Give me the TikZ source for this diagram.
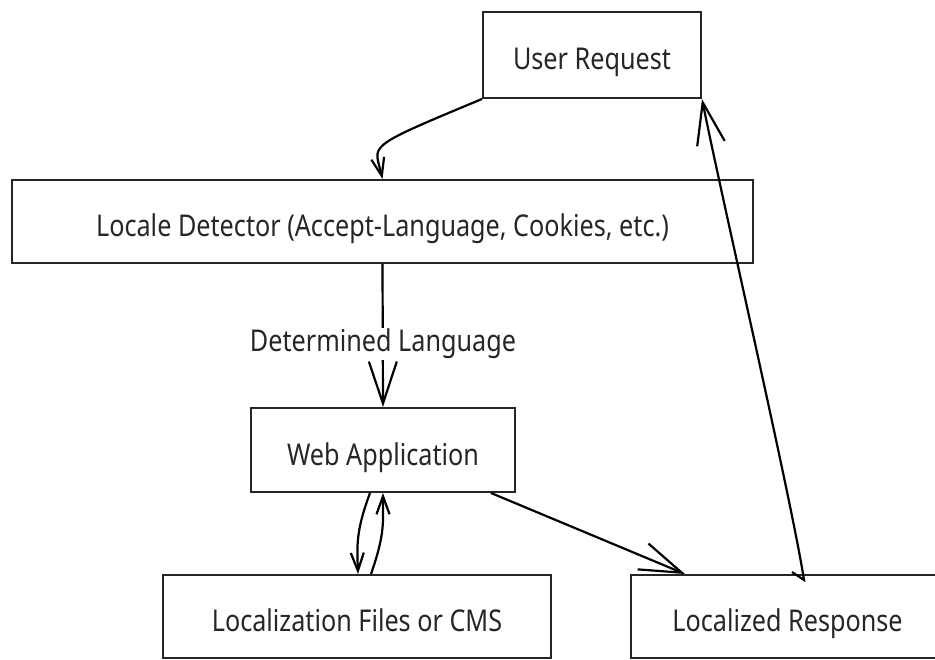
\documentclass[tikz,border=0pt]{standalone}
\usepackage{fontspec}
\setmainfont{Noto Sans}[FakeStretch=0.84]
\usetikzlibrary{arrows.meta,calc}

\begin{document}
\begin{tikzpicture}[x=1pt,y=1pt,
  box/.style={draw=black!85, line width=2pt, inner sep=0pt,
    font=\fontsize{30}{36}\selectfont, text=black!85,
    text height=33pt, text depth=3pt},
  flow/.style={draw=black, line width=2.2pt},
  bigarr/.style={-{Straight Barb[length=42pt,width=28pt]}},
  smallarr/.style={-{Straight Barb[length=18pt,width=13pt]}},
  lbl/.style={fill=white, inner sep=1pt, font=\fontsize{30}{36}\selectfont, text=black!85}]

\useasboundingbox (0,0) rectangle (935,-660);

% boxes
\node[box, minimum width=218, minimum height=86] (user) at (592,-55) {User Request};
\node[box, minimum width=741, minimum height=83] (detector) at (382.5,-221.5)
  {Locale Detector (Accept-Language, Cookies, etc.)};
\node[box, minimum width=264, minimum height=84] (webapp) at (383,-450) {Web Application};
\node[box, minimum width=388, minimum height=83] (files) at (357,-616.5) {Localization Files or CMS};
\node[box, minimum width=313, minimum height=83] (response) at (787.5,-616.5) {Localized Response};

% request into the detector
\draw[flow, smallarr] (user.south west) .. controls +(-120,-50) and +(-8,35) .. (detector.north);

% detector to application, with its label
\draw[flow, bigarr] (detector.south) -- (webapp.north);
\node[lbl, anchor=base] (lang) at (383,-352) {Determined Language};

% application <-> localization store
\draw[flow, smallarr] ($(webapp.south)+(-13,0)$) .. controls +(-14,-38) and +(-1,30) .. ($(files.north)+(1,0)$);
\draw[flow, smallarr] ($(files.north)+(14,0)$) .. controls +(14,40) and +(0,-30) .. (webapp.south);

% application to response
\draw[flow, bigarr] ($(webapp.south east)+(-25,0)$) -- ($(response.north west)+(55,0)$);

% response back to the user
\draw[flow, bigarr] ($(response.north west)+(162,2)$) -- ($(response.north west)+(174,-6)$)
  .. controls +(-12,78) and +(20,-100) .. (user.south east);
\end{tikzpicture}
\end{document}
